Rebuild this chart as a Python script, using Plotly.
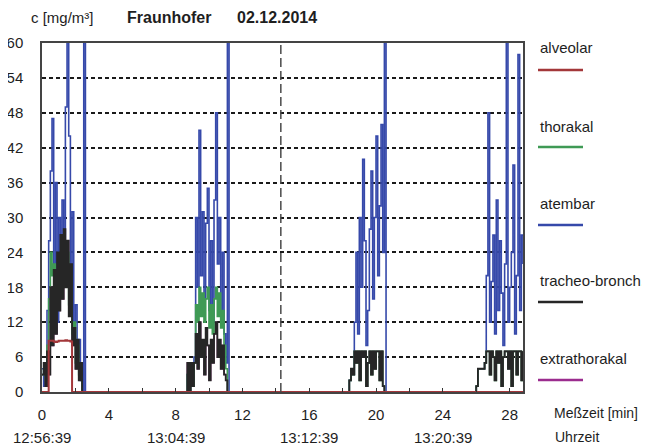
import plotly.graph_objects as go

# ---------------- data ----------------
SAMPLE_MIN = 0.1                      # one reading every 6 s
burst_starts = [0.0, 8.6, 18.3, 25.9]  # start of each measurement burst [min]

atembar_b1 = [4, 1, 5, 14, 26, 38, 47, 22, 36, 12, 30, 18, 33, 24, 49, 66, 44, 20, 31, 12, 15, 6, 9, 2, 0, 66, 0]
atembar_b2 = [0, 3, 0, 4, 1, 6, 30, 18, 45, 20, 31, 16, 29, 35, 14, 26, 12, 33, 48, 22, 30, 14, 24, 10, 5, 66, 0]
atembar_b3 = [0, 2, 4, 3, 12, 24, 10, 30, 18, 40, 26, 8, 14, 28, 38, 16, 30, 44, 20, 32, 46, 24, 66, 0]
atembar_b4 = [0, 1, 4, 4, 4, 4, 5, 20, 48, 12, 19, 27, 10, 33, 14, 26, 17, 8, 22, 66, 12, 18, 24, 39, 10, 20, 58, 14, 27, 22]

thorakal_b1 = [3, 4, 2, 8, 16, 24, 20, 22, 14, 20, 16, 22, 18, 24, 20, 24, 15, 20, 10, 12, 5, 8, 3, 4, 0, 0, 0]
thorakal_b2 = [0, 3, 0, 4, 1, 5, 15, 12, 18, 13, 17, 12, 16, 18, 11, 15, 10, 16, 18, 13, 17, 11, 14, 8, 4, 0, 0]
thorakal_b3 = [0, 2, 4, 3, 7, 5, 7, 2, 7, 6, 7, 1, 5, 7, 3, 7, 4, 7, 7, 2, 7, 1, 0, 0]
thorakal_b4 = [0, 1, 4, 4, 4, 4, 5, 7, 7, 3, 7, 6, 2, 7, 5, 7, 1, 6, 7, 7, 4, 7, 1, 7, 7, 3, 7, 7, 2, 7]

tracheo_b1 = [3, 5, 1, 7, 3, 18, 8, 21, 10, 24, 14, 27, 16, 28, 18, 26, 13, 22, 8, 11, 4, 9, 2, 5, 0, 0, 0]
tracheo_b2 = [0, 5, 0, 5, 1, 5, 10, 4, 12, 6, 9, 3, 11, 8, 2, 9, 5, 10, 12, 6, 9, 4, 8, 3, 2, 0, 0]
tracheo_b3 = [0, 2, 4, 3, 7, 5, 7, 2, 7, 6, 7, 1, 5, 7, 3, 7, 4, 7, 7, 2, 7, 1, 0, 0]
tracheo_b4 = [0, 1, 4, 4, 4, 4, 5, 7, 7, 3, 7, 6, 2, 7, 5, 7, 1, 6, 7, 7, 4, 7, 1, 7, 7, 3, 7, 7, 2, 7]

extrathorakal_b1 = [3, 5, 1, 7, 3, 18, 8, 21, 10, 24, 14, 27, 16, 28, 18, 26, 13, 22, 8, 11, 4, 9, 2, 5, 0, 0, 0]
extrathorakal_b2 = [0, 5, 0, 5, 1, 5, 10, 4, 12, 6, 9, 3, 11, 8, 2, 9, 5, 10, 12, 6, 9, 4, 8, 3, 2, 0, 0]
extrathorakal_b3 = [0, 2, 4, 3, 7, 5, 7, 2, 7, 6, 7, 1, 5, 7, 3, 7, 4, 7, 7, 2, 7, 1, 0, 0]
extrathorakal_b4 = [0, 1, 4, 4, 4, 4, 5, 7, 7, 3, 7, 6, 2, 7, 5, 7, 1, 6, 7, 7, 4, 7, 1, 7, 7, 3, 7, 7, 2, 7]

alveolar_b1 = [0, 0, 0, 0, 8.8, 8.8, 8.8, 8.7, 8.6, 8.7, 8.8, 8.8, 8.8, 8.8, 8.9, 8.8, 8.8, 8.7, 0, 0, 0, 0, 0, 0, 0, 0, 0]
alveolar_b2 = [0] * 27
alveolar_b3 = [0] * 24
alveolar_b4 = [0] * 30

series_names = ["extrathorakal", "atembar", "thorakal", "tracheo-bronch.", "alveolar"]
legend_order = ["alveolar", "thorakal", "atembar", "tracheo-bronch.", "extrathorakal"]

y_ticks = [0, 6, 12, 18, 24, 30, 36, 42, 48, 54, 60]
x_ticks = [0, 4, 8, 12, 16, 20, 24, 28]
clock_ticks = [0, 8, 16, 24]
clock_labels = ["12:56:39", "13:04:39", "13:12:39", "13:20:39"]
marker_time = 14.3          # dashed separator [min]

# ---------------- style ----------------
colors = {
    "alveolar": "#a3373a",
    "thorakal": "#3f9a55",
    "atembar": "#3649aa",
    "tracheo-bronch.": "#262626",
    "extrathorakal": "#9b2c8e",
}
widths = {"alveolar": 2.0, "thorakal": 1.7, "atembar": 1.6,
          "tracheo-bronch.": 1.8, "extrathorakal": 1.4}
FONT = "Liberation Sans, Arial, sans-serif"
TXT = "#1e1e1e"

bursts = {
    "atembar": [atembar_b1, atembar_b2, atembar_b3, atembar_b4],
    "thorakal": [thorakal_b1, thorakal_b2, thorakal_b3, thorakal_b4],
    "tracheo-bronch.": [tracheo_b1, tracheo_b2, tracheo_b3, tracheo_b4],
    "extrathorakal": [extrathorakal_b1, extrathorakal_b2, extrathorakal_b3, extrathorakal_b4],
    "alveolar": [alveolar_b1, alveolar_b2, alveolar_b3, alveolar_b4],
}


def series_xy(parts):
    xs, ys = [], []
    for start, vals in zip(burst_starts, parts):
        for i, v in enumerate(vals):
            xs.append(round(start + i * SAMPLE_MIN, 3))
            ys.append(v)
    return xs, ys


fig = go.Figure()
for name in series_names:
    xs, ys = series_xy(bursts[name])
    fig.add_trace(go.Scatter(x=xs, y=ys, mode="lines", name=name,
                             line=dict(shape="hv", color=colors[name], width=widths[name]),
                             showlegend=False, hoverinfo="skip"))

# layout geometry: the page body has an 8px margin, so work in page pixels
OFF = 8
W, H = 650, 448
plot_left, plot_right, plot_top, plot_bottom = 42, 523, 43, 392   # page pixels
L = plot_left - OFF
T = plot_top - OFF
R = W - (plot_right - OFF)
B = H - (plot_bottom - OFF)
pw, ph = plot_right - plot_left, plot_bottom - plot_top


def px_x(px):
    return (px - plot_left) / pw


def px_y(py):
    return (plot_bottom - py) / ph


fig.add_shape(type="line", xref="x", yref="paper", x0=marker_time, x1=marker_time, y0=0, y1=1,
              line=dict(color="#4a4a4a", width=1.5, dash="9px,4px"))

ann = []
# title
ann.append(dict(text="c [mg/m³]", x=px_x(29), y=px_y(18), xanchor="left", yanchor="middle",
                font=dict(size=15, color=TXT, family=FONT)))
ann.append(dict(text="<b>Fraunhofer</b>", x=px_x(125), y=px_y(18), xanchor="left", yanchor="middle",
                font=dict(size=16, color=TXT, family=FONT)))
ann.append(dict(text="<b>02.12.2014</b>", x=px_x(235), y=px_y(18), xanchor="left", yanchor="middle",
                font=dict(size=16, color=TXT, family=FONT)))
# clock row
for t, lab in zip(clock_ticks, clock_labels):
    ann.append(dict(text=lab, x=t, xref="x", y=px_y(437), yanchor="middle", xanchor="center",
                    font=dict(size=15, color=TXT, family=FONT)))
ann.append(dict(text="Meßzeit [min]", x=px_x(552), y=px_y(413), xanchor="left", yanchor="middle",
                font=dict(size=14, color=TXT, family=FONT)))
ann.append(dict(text="Uhrzeit", x=px_x(553), y=px_y(437), xanchor="left", yanchor="middle",
                font=dict(size=14, color=TXT, family=FONT)))

# manual legend: label above a short line sample
legend_text_y = [48, 127, 203, 280, 358]
legend_line_y = [70, 147, 225, 302, 380]
for name, ty, ly in zip(legend_order, legend_text_y, legend_line_y):
    ann.append(dict(text=name, x=px_x(538), y=px_y(ty), xanchor="left", yanchor="middle",
                    font=dict(size=15, color=TXT, family=FONT)))
    fig.add_shape(type="line", xref="paper", yref="paper", x0=px_x(538), x1=px_x(583),
                  y0=px_y(ly), y1=px_y(ly), line=dict(color=colors[name], width=2.5))

for a in ann:
    a.setdefault("xref", "paper")
    a["yref"] = "paper"
    a["showarrow"] = False

fig.update_layout(
    width=W, height=H,
    margin=dict(l=L, r=R, t=T, b=B, pad=0),
    paper_bgcolor="white", plot_bgcolor="white",
    annotations=ann,
    font=dict(family=FONT, size=15, color=TXT),
    xaxis=dict(range=[0, 28.8], tickvals=x_ticks, ticktext=[str(v) for v in x_ticks],
               ticks="inside", ticklen=4, tickwidth=1.2, tickcolor="#333",
               minor=dict(dtick=2, tick0=0, ticks="inside", ticklen=4, tickwidth=1.2, tickcolor="#333"),
               showgrid=False, zeroline=False, showline=True, mirror=True, automargin=False,
               linecolor="#444", linewidth=1.5, ticklabelstandoff=8,
               tickfont=dict(size=15, color=TXT, family=FONT)),
    yaxis=dict(range=[0, 60], tickvals=y_ticks, ticktext=[str(v) for v in y_ticks],
               ticks="", showgrid=True, gridcolor="#1a1a1a", gridwidth=1.6, griddash="4px,3px",
               zeroline=False, showline=True, mirror=True, linecolor="#444", linewidth=1.5,
               automargin=False, ticklabelstandoff=14,
               tickfont=dict(size=15, color=TXT, family=FONT)),
)

fig.write_html("out.html")
